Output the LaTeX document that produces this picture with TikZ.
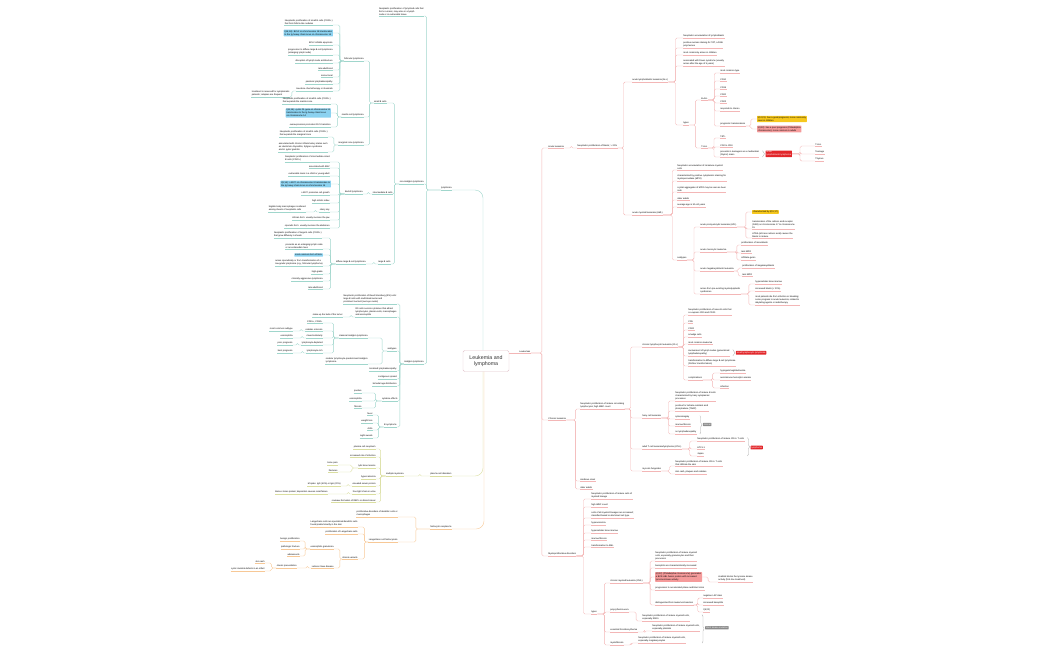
\documentclass[tikz,border=0pt]{standalone}
\usepackage{fontspec}
\setmainfont{Liberation Sans}
\usepackage{xcolor}
\usepackage{tikz}
\usetikzlibrary{positioning,calc,decorations.pathreplacing}
\definecolor{lymteal}{RGB}{160,214,204}
\definecolor{plasmaolive}{RGB}{218,222,160}
\definecolor{histoorange}{RGB}{247,200,150}
\definecolor{leukpink}{RGB}{243,182,182}
\definecolor{rootedge}{RGB}{226,196,204}
\definecolor{boxblue}{RGB}{140,210,240}
\definecolor{boxyellow}{RGB}{246,200,30}
\definecolor{boxsalmon}{RGB}{245,155,155}
\definecolor{boxred}{RGB}{226,38,42}
\definecolor{boxgray}{RGB}{140,140,140}
\colorlet{brc}{lymteal}
% parent -> child links (left side / right side)
\newcommand{\linkL}[3][4]{\draw[link] (#2.south west) -- ++(-#1,0) |- (#3.south east);}
\newcommand{\linkR}[3][4]{\draw[link] (#2.south east) -- ++(#1,0) |- (#3.south west);}
\newcommand{\linkLbox}[3][4]{\draw[link] (#2.south west) -- ++(-#1,0) |- (#3.east);}
\newcommand{\linkRbox}[3][4]{\draw[link] (#2.south east) -- ++(#1,0) |- (#3.west);}
\newcommand{\linkRfrom}[3][4]{\draw[link] (#2.east) -- ++(#1,0) |- (#3.south west);}

\begin{document}
\begin{tikzpicture}[x=1mm, y=-1mm,
    topic/.style={font=\fontsize{6.4}{8.4}\selectfont, inner xsep=0.4mm, inner ysep=0.6mm, align=left,
      append after command={(\tikzlastnode.south west) edge[draw=brc, line width=0.4mm] (\tikzlastnode.south east)}},
    ltopic/.style={topic, anchor=south east},
    rtopic/.style={topic, anchor=south west},
    hbox/.style={font=\fontsize{6.4}{8.4}\selectfont, inner xsep=0.9mm, inner ysep=0.8mm, align=left, rounded corners=0.5mm},
    hblue/.style={hbox, fill=boxblue},
    hyellow/.style={hbox, fill=boxyellow},
    hsalmon/.style={hbox, fill=boxsalmon},
    hred/.style={hbox, fill=boxred, text=white},
    hgray/.style={hbox, fill=boxgray, text=white},
    link/.style={draw=brc, line width=0.4mm, rounded corners=1.5mm},
    curly/.style={draw=black!35, line width=0.3mm, decorate, decoration={brace, amplitude=2mm}}
  ]
  \useasboundingbox (0,0) rectangle (1050,650);

  \node[draw=rootedge, fill=white, line width=0.45mm, rounded corners=1.5mm, minimum width=46mm,
        minimum height=21mm, align=center, text=black!80, font=\fontsize{15}{19}\selectfont]
        (root) at (486,361) {Leukemia and\\lymphoma};

  %% lymphoma
  \begin{scope}
  \colorlet{brc}{lymteal}
  \node[ltopic] (lym) at (452,190) {lymphoma};
  \draw[link, rounded corners=8mm] ([xshift=-3mm]root.north) |- (lym.south east);
  \node[ltopic] (lymdef) at (424,16) {Neoplastic proliferation of lymphoid cells that\\forms a mass; may arise in a lymph\\node or in extranodal tissue};
  \node[ltopic] (nhl) at (424,184) {non-Hodgkin lymphoma};
  \node[ltopic] (hl) at (424,364) {Hodgkin lymphoma};
  \linkL[14]{lym}{lymdef} \linkL[14]{lym}{nhl} \linkL[14]{lym}{hl}

  \node[ltopic] (sbc) at (387,103) {small B cells};
  \node[ltopic] (ibc) at (393,194) {intermediate B cells};
  \node[ltopic] (lbc) at (391,264) {large B cells};
  \linkL[5]{nhl}{sbc} \linkL[5]{nhl}{ibc} \linkL[5]{nhl}{lbc}

  \node[ltopic] (fl) at (364,61) {follicular lymphoma};
  \node[ltopic] (mcl) at (364,117) {mantle cell lymphoma};
  \node[ltopic] (mzl) at (364,145) {marginal zone lymphoma};
  \linkL{sbc}{fl} \linkL{sbc}{mcl} \linkL{sbc}{mzl}

  \node[ltopic] (fl1) at (333,25) {Neoplastic proliferation of small B cells (CD20+)\\that form follicle-like nodules};
  \node[hblue, anchor=east] (fl2) at (333,33) {t(14;18): BCL2 on chromosome 18 translocates\\to the Ig heavy chain locus on chromosome 14};
  \node[ltopic] (fl3) at (333,45) {BCL2 inhibits apoptosis};
  \node[ltopic] (fl4) at (333,55) {progression to diffuse large B-cell lymphoma\\(enlarging lymph node)};
  \node[ltopic] (fl5) at (333,63) {disruption of lymph node architecture};
  \node[ltopic] (fl6) at (333,70) {late adulthood};
  \node[ltopic] (fl7) at (333,77) {monoclonal};
  \node[ltopic] (fl8) at (333,84) {painless lymphadenopathy};
  \node[ltopic] (fl9) at (333,91) {low-dose chemotherapy or rituximab};
  \node[ltopic] (fl9a) at (290,97) {treatment is reserved for symptomatic\\patients; relapses are frequent};
  \linkL{fl}{fl1} \linkLbox{fl}{fl2} \linkL{fl}{fl3} \linkL{fl}{fl4} \linkL{fl}{fl5}
  \linkL{fl}{fl6} \linkL{fl}{fl7} \linkL{fl}{fl8} \linkL{fl}{fl9} \linkL{fl9}{fl9a}

  \node[ltopic] (mcl1) at (331,104) {Neoplastic proliferation of small B cells (CD20+)\\that expands the mantle zone};
  \node[hblue, anchor=east] (mcl2) at (331,113) {t(11;14): cyclin D1 gene on chromosome 11\\translocates to the Ig heavy chain locus\\on chromosome 14};
  \node[ltopic] (mcl3) at (331,127) {overexpression promotes G1/S transition};
  \linkL{mcl}{mcl1} \linkLbox{mcl}{mcl2} \linkL{mcl}{mcl3}

  \node[ltopic] (mzl1) at (328,137) {Neoplastic proliferation of small B cells (CD20+)\\that expands the marginal zone};
  \node[ltopic] (mzl2) at (328,152) {associated with chronic inflammatory states such\\as Hashimoto thyroiditis, Sjögren syndrome\\and \emph{H. pylori} gastritis};
  \linkL{mzl}{mzl1} \linkL{mzl}{mzl2}

  \node[ltopic] (bl) at (363,194) {Burkitt lymphoma};
  \linkL{ibc}{bl}
  \node[ltopic] (bl1) at (330,162) {Neoplastic proliferation of intermediate-sized\\B cells (CD20+)};
  \node[ltopic] (bl2) at (330,168) {associated with EBV};
  \node[ltopic] (bl3) at (330,176) {extranodal mass in a child or young adult};
  \node[hblue, anchor=east] (bl4) at (331,184) {t(8;14): c-MYC on chromosome 8 translocates to\\the Ig heavy chain locus on chromosome 14};
  \node[ltopic] (bl5) at (330,195) {c-MYC promotes cell growth};
  \node[ltopic] (bl6) at (330,203) {high mitotic index};
  \node[ltopic] (bl7) at (330,212) {starry sky};
  \node[ltopic] (bl7a) at (306,212) {tingible body macrophages scattered\\among sheets of neoplastic cells};
  \node[ltopic] (bl8) at (330,220) {African form: usually involves the jaw};
  \node[ltopic] (bl9) at (330,228) {sporadic form: usually involves the abdomen};
  \linkL[5]{bl}{bl1} \linkL[5]{bl}{bl2} \linkL[5]{bl}{bl3} \linkLbox[5]{bl}{bl4} \linkL[5]{bl}{bl5}
  \linkL[5]{bl}{bl6} \linkL[5]{bl}{bl7} \linkL[5]{bl}{bl8} \linkL[5]{bl}{bl9} \linkL{bl7}{bl7a}

  \node[ltopic] (dl) at (366,264) {diffuse large B-cell lymphoma};
  \linkL{lbc}{dl}
  \node[ltopic] (dl1) at (322,238) {Neoplastic proliferation of large B cells (CD20+)\\that grow diffusely in sheets};
  \node[ltopic] (dl2) at (323,249) {presents as an enlarging lymph node\\or an extranodal mass};
  \node[hblue, anchor=east] (dl3) at (323,255) {most common form of NHL};
  \node[ltopic] (dl4) at (323,266) {arises sporadically or from transformation of a\\low-grade lymphoma (e.g., follicular lymphoma)};
  \node[ltopic] (dl5) at (323,274) {high-grade};
  \node[ltopic] (dl6) at (323,281) {clinically aggressive lymphoma};
  \node[ltopic] (dl7) at (323,289) {late adulthood};
  \linkL[5]{dl}{dl1} \linkL[5]{dl}{dl2} \linkLbox[5]{dl}{dl3} \linkL[5]{dl}{dl4}
  \linkL[5]{dl}{dl5} \linkL[5]{dl}{dl6} \linkL[5]{dl}{dl7}

  \node[ltopic] (hl1) at (397,304) {Neoplastic proliferation of Reed-Sternberg (RS) cells:\\large B cells with multilobed nuclei and\\prominent nucleoli (owl-eye nuclei)};
  \node[ltopic] (hl2) at (397,317) {RS cells secrete cytokines that attract\\lymphocytes, plasma cells, macrophages\\and eosinophils};
  \node[ltopic] (hl2a) at (343,317) {make up the bulk of the tumor};
  \node[ltopic] (hl3) at (397,351) {subtypes};
  \node[ltopic] (hl4) at (397,371) {localized lymphadenopathy};
  \node[ltopic] (hl5) at (397,379) {contiguous spread};
  \node[ltopic] (hl6) at (397,386) {bimodal age distribution};
  \node[ltopic] (hl7) at (398,401) {cytokine effects};
  \node[ltopic] (hl8) at (397,427) {B symptoms};
  \linkL{hl}{hl1} \linkL{hl}{hl2} \linkL{hl}{hl3} \linkL{hl}{hl4}
  \linkL{hl}{hl5} \linkL{hl}{hl6} \linkL{hl}{hl7} \linkL{hl}{hl8} \linkL{hl2}{hl2a}

  \node[ltopic] (chl) at (368,338) {classical Hodgkin lymphoma};
  \node[ltopic] (nlp) at (368,364) {nodular lymphocyte-predominant Hodgkin\\lymphoma};
  \linkL[5]{hl3}{chl} \linkL[5]{hl3}{nlp}
  \node[ltopic] (chl1) at (323,323) {CD15+, CD30+};
  \node[ltopic] (chl2) at (323,331) {nodular sclerosis};
  \node[ltopic] (chl3) at (323,338) {mixed cellularity};
  \node[ltopic] (chl4) at (323,345) {lymphocyte-depleted};
  \node[ltopic] (chl5) at (323,353) {lymphocyte-rich};
  \node[ltopic] (chl2a) at (293,331) {most common subtype};
  \node[ltopic] (chl3a) at (293,338) {eosinophilia};
  \node[ltopic] (chl4a) at (293,345) {poor prognosis};
  \node[ltopic] (chl5a) at (293,353) {best prognosis};
  \linkL[5]{chl}{chl1} \linkL[5]{chl}{chl2} \linkL[5]{chl}{chl3} \linkL[5]{chl}{chl4} \linkL[5]{chl}{chl5}
  \linkL{chl2}{chl2a} \linkL{chl3}{chl3a} \linkL{chl4}{chl4a} \linkL{chl5}{chl5a}

  \node[ltopic] (hl7a) at (362,393) {pruritus};
  \node[ltopic] (hl7b) at (362,401) {eosinophilia};
  \node[ltopic] (hl7c) at (362,408) {fibrosis};
  \linkL[6]{hl7}{hl7a} \linkL[6]{hl7}{hl7b} \linkL[6]{hl7}{hl7c}
  \node[ltopic] (hl8a) at (373,415) {fever};
  \node[ltopic] (hl8b) at (373,423) {weight loss};
  \node[ltopic] (hl8c) at (373,430) {chills};
  \node[ltopic] (hl8d) at (373,438) {night sweats};
  \linkL[5]{hl8}{hl8a} \linkL[5]{hl8}{hl8b} \linkL[5]{hl8}{hl8c} \linkL[5]{hl8}{hl8d}
  \end{scope}

  %% plasma cell disorders
  \begin{scope}
  \colorlet{brc}{plasmaolive}
  \node[ltopic] (pcd) at (452,476) {plasma cell disorders};
  \draw[link, rounded corners=8mm] ([xshift=-3mm]root.south) |- (pcd.south east);
  \node[ltopic] (mm) at (404,476) {multiple myeloma};
  \linkL[10]{pcd}{mm}
  \node[ltopic] (mm1) at (376,449) {plasma cell neoplasm};
  \node[ltopic] (mm2) at (376,457) {increased risk of infection};
  \node[ltopic] (mm3) at (376,468) {lytic bone lesions};
  \node[ltopic] (mm4) at (376,479) {hypercalcemia};
  \node[ltopic] (mm5) at (376,486) {elevated serum protein};
  \node[ltopic] (mm6) at (376,494) {free light chain in urine};
  \node[ltopic] (mm7) at (376,502) {rouleaux formation of RBCs on blood smear};
  \linkL[5]{mm}{mm1} \linkL[5]{mm}{mm2} \linkL[5]{mm}{mm3} \linkL[5]{mm}{mm4}
  \linkL[5]{mm}{mm5} \linkL[5]{mm}{mm6} \linkL[5]{mm}{mm7}
  \node[ltopic] (mm3a) at (338,465) {bone pain};
  \node[ltopic] (mm3b) at (338,472) {fractures};
  \node[ltopic] (mm5a) at (341,486) {M spike: IgG (60\%) or IgA (20\%)};
  \node[ltopic] (mm6a) at (328,494) {Bence Jones protein; deposition causes renal failure};
  \linkL[6]{mm3}{mm3a} \linkL[6]{mm3}{mm3b} \linkL{mm5}{mm5a} \linkL{mm6}{mm6a}
  \end{scope}

  %% histiocytic neoplasms
  \begin{scope}
  \colorlet{brc}{histoorange}
  \node[ltopic] (hn) at (452,529) {histiocytic neoplasms};
  \draw[link, rounded corners=8mm] ([xshift=-2mm]root.south) |- (hn.south east);
  \node[ltopic] (hn1) at (398,517) {proliferative disorders of dendritic cells or\\macrophages};
  \node[ltopic] (lch) at (398,542) {Langerhans cell histiocytosis};
  \linkL[14]{hn}{hn1} \linkL[14]{hn}{lch}
  \node[ltopic] (lch1) at (358,527) {Langerhans cells are specialized dendritic cells\\found predominantly in the skin};
  \node[ltopic] (lch2) at (358,534) {proliferation of Langerhans cells};
  \node[ltopic] (lch3) at (358,559) {clinical variants};
  \linkL{lch}{lch1} \linkL{lch}{lch2} \linkL{lch}{lch3}
  \node[ltopic] (egr) at (334,549) {eosinophilic granuloma};
  \node[ltopic] (lsd) at (334,568) {Letterer-Siwe disease};
  \linkL[2]{lch3}{egr} \linkL[2]{lch3}{lsd}
  \node[ltopic] (egr1) at (300,541) {benign proliferation};
  \node[ltopic] (egr2) at (300,549) {pathologic fracture};
  \node[ltopic] (egr3) at (300,556) {adolescents};
  \linkL[5]{egr}{egr1} \linkL[5]{egr}{egr2} \linkL[5]{egr}{egr3}
  \node[ltopic] (lsd1) at (297,568) {classic presentation};
  \node[ltopic] (lsd1a) at (265,563) {skin rash};
  \node[ltopic] (lsd1b) at (265,571) {cystic skeletal defects in an infant};
  \linkL{lsd}{lsd1} \linkL[5]{lsd1}{lsd1a} \linkL[5]{lsd1}{lsd1b}
  \end{scope}

  %% leukemias
  \begin{scope}
  \colorlet{brc}{leukpink}
  \node[rtopic] (leuk) at (519,353) {Leukemias};
  \draw[link] (root.east |- leuk.south west) -- (leuk.south west);
  \node[rtopic] (al) at (548,148) {Acute leukemia};
  \node[rtopic] (cl) at (548,420) {Chronic leukemia};
  \node[rtopic] (mpd) at (548,556) {Myeloproliferative disorders};
  \linkR[11]{leuk}{al} \linkR[11]{leuk}{cl} \linkR[11]{leuk}{mpd}

  \node[rtopic] (alnp) at (577,148) {Neoplastic proliferation of blasts; > 20\%};
  \linkR[7]{al}{alnp}
  \node[rtopic] (all) at (632,82) {acute lymphoblastic leukemia (ALL)};
  \node[rtopic] (aml) at (632,215) {acute myeloid leukemia (AML)};
  \linkR[6]{alnp}{all} \linkR[6]{alnp}{aml}

  \node[rtopic] (all1) at (683,38) {Neoplastic accumulation of lymphoblasts};
  \node[rtopic] (all2) at (683,48) {positive nuclear staining for TdT, a DNA\\polymerase};
  \node[rtopic] (all3) at (683,55) {most commonly arises in children};
  \node[rtopic] (all4) at (683,66) {associated with Down syndrome (usually\\arises after the age of 5 years)};
  \node[rtopic] (alt) at (683,125) {types};
  \linkR[7]{all}{all1} \linkR[7]{all}{all2} \linkR[7]{all}{all3} \linkR[7]{all}{all4} \linkR[7]{all}{alt}
  \node[rtopic] (ball) at (701,100) {B-ALL};
  \node[rtopic] (tall) at (701,148) {T-ALL};
  \linkR[6]{alt}{ball} \linkR[6]{alt}{tall}

  \node[rtopic] (ba1) at (720,73) {most common type};
  \node[rtopic] (ba2) at (720,81) {CD10};
  \node[rtopic] (ba3) at (720,89) {CD19};
  \node[rtopic] (ba4) at (720,96) {CD20};
  \node[rtopic] (ba5) at (720,103) {CD22};
  \node[rtopic] (ba6) at (720,111) {responds to chemo};
  \node[rtopic] (ba7) at (720,126) {prognostic translocations};
  \linkR[6]{ball}{ba1} \linkR[6]{ball}{ba2} \linkR[6]{ball}{ba3} \linkR[6]{ball}{ba4}
  \linkR[6]{ball}{ba5} \linkR[6]{ball}{ba6} \linkR[6]{ball}{ba7}
  \node[hyellow, anchor=west] (ba7a) at (757,119) {t(12;21): has a good prognosis; more commonly\\seen in children};
  \node[hsalmon, anchor=west] (ba7b) at (757,129) {t(9;22): has a poor prognosis (Philadelphia\\chromosome); more common in adults};
  \linkRbox[5]{ba7}{ba7a} \linkRbox[5]{ba7}{ba7b}

  \node[rtopic] (ta1) at (720,138) {TdT+};
  \node[rtopic] (ta2) at (720,147) {CD2 to CD8};
  \node[rtopic] (ta3) at (720,157) {presents in teenagers as a mediastinal\\(thymic) mass};
  \linkR[6]{tall}{ta1} \linkR[6]{tall}{ta2} \linkR[6]{tall}{ta3}
  \coordinate (tab) at ($(ta3.east)+(3,0)$);
  \draw[curly] (tab |- ta3.north) -- (tab |- ta3.south);
  \node[hred, right=3mm of tab] (tal) {acute\\lymphoblastic lymphoma};
  \node[rtopic] (tal1) at (815,146) {T-ALL};
  \node[rtopic] (tal2) at (815,154) {Teenage};
  \node[rtopic] (tal3) at (815,161) {Thymus};
  \linkRfrom[8]{tal}{tal1} \linkRfrom[8]{tal}{tal2} \linkRfrom[8]{tal}{tal3}

  \node[rtopic] (aml1) at (677,170) {Neoplastic accumulation of immature myeloid\\cells};
  \node[rtopic] (aml2) at (677,181) {characterized by positive cytoplasmic staining for\\myeloperoxidase (MPO)};
  \node[rtopic] (aml3) at (677,192) {crystal aggregates of MPO may be seen as Auer\\rods};
  \node[rtopic] (aml4) at (677,200) {older adults};
  \node[rtopic] (aml5) at (677,207) {average age is 50--60 years};
  \node[rtopic] (ams) at (677,260) {subtypes};
  \linkR[9]{aml}{aml1} \linkR[9]{aml}{aml2} \linkR[9]{aml}{aml3}
  \linkR[9]{aml}{aml4} \linkR[9]{aml}{aml5} \linkR[9]{aml}{ams}
  \node[rtopic] (apl) at (700,227) {acute promyelocytic leukemia (APL)};
  \node[rtopic] (amol) at (700,252) {acute monocytic leukemia};
  \node[rtopic] (amkl) at (700,271) {acute megakaryoblastic leukemia};
  \node[rtopic] (mds) at (700,294) {arises from pre-existing myelodysplastic\\syndromes};
  \linkR[7]{ams}{apl} \linkR[7]{ams}{amol} \linkR[7]{ams}{amkl} \linkR[7]{ams}{mds}

  \node[hyellow, anchor=west] (apl1) at (752,212) {characterized by t(15;17)};
  \node[rtopic] (apl2) at (752,229) {translocation of the retinoic acid receptor\\(RAR) on chromosome 17 to chromosome\\15};
  \node[rtopic] (apl3) at (752,238) {ATRA (all-trans retinoic acid) causes the\\blasts to mature};
  \linkRbox[9]{apl}{apl1} \linkR[9]{apl}{apl2} \linkR[9]{apl}{apl3}
  \node[rtopic] (amol1) at (741,245) {proliferation of monoblasts};
  \node[rtopic] (amol2) at (741,253) {lack MPO};
  \node[rtopic] (amol3) at (741,260) {infiltrate gums};
  \linkR[10]{amol}{amol1} \linkR[10]{amol}{amol2} \linkR[10]{amol}{amol3}
  \node[rtopic] (amkl1) at (742,268) {proliferation of megakaryoblasts};
  \node[rtopic] (amkl2) at (742,276) {lack MPO};
  \linkR{amkl}{amkl1} \linkR{amkl}{amkl2}
  \node[rtopic] (mds1) at (755,284) {hypercellular bone marrow};
  \node[rtopic] (mds2) at (755,291) {increased blasts (< 20\%)};
  \node[rtopic] (mds3) at (755,305) {most patients die from infection or bleeding;\\some progress to acute leukemia; related to\\alkylating agents or radiotherapy};
  \linkR[8]{mds}{mds1} \linkR[8]{mds}{mds2} \linkR[8]{mds}{mds3}

  %% chronic leukemia
  \node[rtopic] (clnp) at (580,409) {Neoplastic proliferation of mature circulating\\lymphocytes; high WBC count};
  \node[rtopic] (clo1) at (580,481) {insidious onset};
  \node[rtopic] (clo2) at (580,489) {older adults};
  \linkR[9]{cl}{clnp} \linkR[9]{cl}{clo1} \linkR[9]{cl}{clo2}
  \node[rtopic] (cll) at (642,347) {chronic lymphocytic leukemia (CLL)};
  \node[rtopic] (hcl) at (642,418) {hairy cell leukemia};
  \node[rtopic] (atll) at (642,449) {adult T-cell leukemia/lymphoma (ATLL)};
  \node[rtopic] (mycf) at (642,471) {mycosis fungoides};
  \linkR[6]{clnp}{cll} \linkR[6]{clnp}{hcl} \linkR[6]{clnp}{atll} \linkR[6]{clnp}{mycf}

  \node[rtopic] (cll1) at (688,315) {Neoplastic proliferation of naive B cells that\\co-express CD5 and CD20};
  \node[rtopic] (cll2) at (688,323) {CD5};
  \node[rtopic] (cll3) at (688,330) {CD20};
  \node[rtopic] (cll4) at (688,337) {smudge cells};
  \node[rtopic] (cll5) at (688,344) {most common leukemia};
  \node[rtopic] (cll6) at (688,356) {involvement of lymph nodes (generalized\\lymphadenopathy)};
  \node[rtopic] (cll7) at (688,366) {transformation to diffuse large B-cell lymphoma\\(Richter transformation)};
  \node[rtopic] (cll8) at (688,380) {complications};
  \linkR[5]{cll}{cll1} \linkR[5]{cll}{cll2} \linkR[5]{cll}{cll3} \linkR[5]{cll}{cll4}
  \linkR[5]{cll}{cll5} \linkR[5]{cll}{cll6} \linkR[5]{cll}{cll7} \linkR[5]{cll}{cll8}
  \coordinate (clb) at ($(cll6.east)+(3,0)$);
  \draw[curly] (clb |- cll6.north) -- (clb |- cll6.south);
  \node[hred, right=3mm of clb] (sll) {small lymphocytic lymphoma};
  \node[rtopic] (cmp1) at (720,373) {hypogammaglobulinemia};
  \node[rtopic] (cmp2) at (720,380) {autoimmune hemolytic anemia};
  \node[rtopic] (cmp3) at (720,388) {infection};
  \linkR[10]{cll8}{cmp1} \linkR[10]{cll8}{cmp2} \linkR[10]{cll8}{cmp3}

  \node[rtopic] (hcl1) at (675,401) {Neoplastic proliferation of mature B cells\\characterized by hairy cytoplasmic\\processes};
  \node[rtopic] (hcl2) at (675,411) {positive for tartrate-resistant acid\\phosphatase (TRAP)};
  \node[rtopic] (hcl3) at (675,419) {splenomegaly};
  \node[rtopic] (hcl4) at (675,426) {marrow fibrosis};
  \node[rtopic] (hcl5) at (675,434) {no lymphadenopathy};
  \linkR[7]{hcl}{hcl1} \linkR[7]{hcl}{hcl2} \linkR[7]{hcl}{hcl3} \linkR[7]{hcl}{hcl4} \linkR[7]{hcl}{hcl5}
  \coordinate (hcb) at ($(hcl5.east)+(3,0)$);
  \coordinate (hcm) at (hcb |- hcl4);
  \draw[curly] (hcb |- hcl3.north) -- (hcb |- hcl5.south);
  \node[hgray, right=3mm of hcm] (hcs) {clinical};

  \node[rtopic] (atl1) at (697,441) {Neoplastic proliferation of mature CD4+ T cells};
  \node[rtopic] (atl2) at (697,449) {HTLV-1};
  \node[rtopic] (atl3) at (697,456) {Japan};
  \linkR[8]{atll}{atl1} \linkR[8]{atll}{atl2} \linkR[8]{atll}{atl3}
  \coordinate (atb) at ($(atl1.east)+(3,0)$);
  \coordinate (atm) at (atb |- atl2);
  \draw[curly] (atb |- atl1.north) -- (atb |- atl3.south);
  \node[hred, right=3mm of atm] (ats) {lymphoma};

  \node[rtopic] (mycf1) at (675,466) {Neoplastic proliferation of mature CD4+ T cells\\that infiltrate the skin};
  \node[rtopic] (mycf2) at (675,474) {skin rash, plaques and nodules};
  \linkR[8]{mycf}{mycf1} \linkR[8]{mycf}{mycf2}

  %% myeloproliferative disorders
  \node[rtopic] (mp1) at (591,499) {Neoplastic proliferation of mature cells of\\myeloid lineage};
  \node[rtopic] (mp2) at (591,507) {high WBC count};
  \node[rtopic] (mp3) at (591,518) {cells of all myeloid lineages are increased;\\classified based on dominant cell type};
  \node[rtopic] (mp4) at (591,525) {hyperuricemia};
  \node[rtopic] (mp5) at (591,533) {hypercellular bone marrow};
  \node[rtopic] (mp6) at (591,540) {marrow fibrosis};
  \node[rtopic] (mp7) at (591,547) {transformation to AML};
  \node[rtopic] (mpt) at (591,614) {types};
  \linkR[7]{mpd}{mp1} \linkR[7]{mpd}{mp2} \linkR[7]{mpd}{mp3} \linkR[7]{mpd}{mp4}
  \linkR[7]{mpd}{mp5} \linkR[7]{mpd}{mp6} \linkR[7]{mpd}{mp7} \linkR[7]{mpd}{mpt}
  \node[rtopic] (cml) at (610,583) {chronic myeloid leukemia (CML)};
  \node[rtopic] (pv) at (610,612) {polycythemia vera};
  \node[rtopic] (et) at (610,632) {essential thrombocythemia};
  \node[rtopic] (mfib) at (610,645) {myelofibrosis};
  \linkR[7]{mpt}{cml} \linkR[7]{mpt}{pv} \linkR[7]{mpt}{et} \linkR[7]{mpt}{mfib}

  \node[rtopic] (cml1) at (655,561) {Neoplastic proliferation of mature myeloid\\cells, especially granulocytes and their\\precursors};
  \node[rtopic] (cml2) at (655,568) {basophils are characteristically increased};
  \node[hsalmon, anchor=west] (cml3) at (655,577) {t(9;22) (Philadelphia chromosome) generates\\a BCR-ABL fusion protein with increased\\tyrosine kinase activity};
  \node[rtopic] (cml4) at (655,590) {progression to accelerated phase and blast crisis};
  \node[rtopic] (cml5) at (655,605) {distinguished from leukemoid reaction};
  \linkR[7]{cml}{cml1} \linkR[7]{cml}{cml2} \linkRbox[7]{cml}{cml3} \linkR[7]{cml}{cml4} \linkR[7]{cml}{cml5}
  \node[rtopic] (cml3a) at (718,582) {imatinib blocks the tyrosine kinase\\activity (first-line treatment)};
  \linkRfrom[6]{cml3}{cml3a}
  \node[rtopic] (cml5a) at (703,598) {negative LAP stain};
  \node[rtopic] (cml5b) at (703,605) {increased basophils};
  \node[rtopic] (cml5c) at (703,612) {t(9;22)};
  \linkR{cml5}{cml5a} \linkR{cml5}{cml5b} \linkR{cml5}{cml5c}

  \node[rtopic] (pv1) at (642,621) {Neoplastic proliferation of mature myeloid cells,\\especially RBCs};
  \node[rtopic] (et1) at (652,631) {Neoplastic proliferation of mature myeloid cells,\\especially platelets};
  \node[rtopic] (mfib1) at (638,643) {Neoplastic proliferation of mature myeloid cells,\\especially megakaryocytes};
  \linkR[7]{pv}{pv1} \linkR[7]{et}{et1} \linkR[7]{mfib}{mfib1}
  \coordinate (jkb) at ($(et1.east)+(2,0)$);
  \coordinate (jkm) at (jkb |- et1);
  \draw[curly] (jkb |- pv1.north) -- (jkb |- mfib1.south);
  \node[hgray, right=3mm of jkm] (jak) {JAK2 kinase mutation};
  \end{scope}
\end{tikzpicture}
\end{document}
